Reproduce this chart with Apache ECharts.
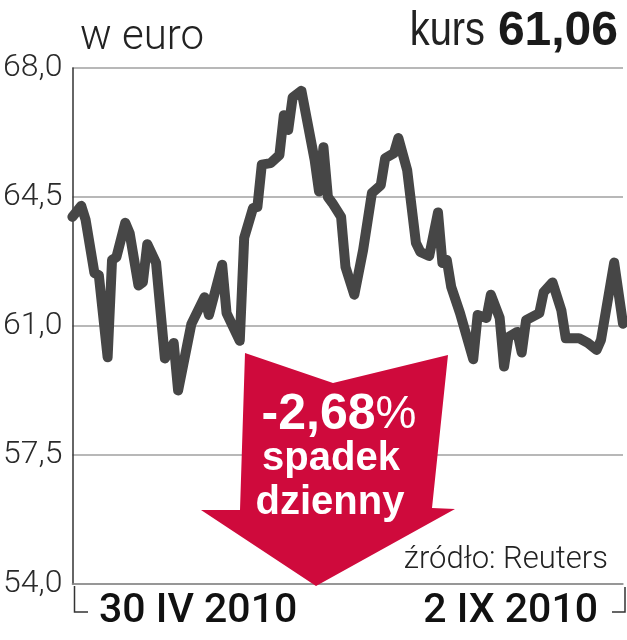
<!DOCTYPE html>
<html>
<head>
<meta charset="utf-8">
<script src="https://cdn.jsdelivr.net/npm/echarts@6/dist/echarts.min.js"></script>
<style>
  html, body { margin: 0; padding: 0; background: #fff; }
  #chart { width: 627px; height: 640px; }
</style>
</head>
<body>
<div id="chart"></div>
<script>
// dni kalendarzowe liczone od 30 IV 2010
const days = [0, 2, 3, 5, 6, 8, 9, 10, 12, 13, 15, 16, 17, 19, 21, 23, 24, 27, 30, 31,
  34, 35, 38, 39, 41, 42, 43, 45, 47, 48, 49, 50, 52, 55, 56, 57, 58, 59, 61, 62,
  64, 66, 68, 70, 71, 73, 74, 76, 78, 79, 81, 83, 84, 85, 86, 88, 91, 92, 94, 95,
  97, 98, 99, 101, 102, 103, 106, 107, 109, 111, 112, 115, 117, 119, 120, 123, 125];
// kurs w euro
const prices = [63.96, 64.26, 63.88, 62.44, 62.38, 60.15, 62.79, 62.87, 63.80, 63.52,
  62.10, 62.19, 63.22, 62.71, 60.12, 60.54, 59.25, 61.05, 61.78, 61.30,
  62.66, 61.35, 60.60, 63.39, 64.20, 64.23, 65.38, 65.42, 65.64, 66.72,
  66.32, 67.20, 67.38, 65.50, 64.65, 65.85, 64.50, 64.34, 63.96, 62.60,
  61.85, 63.06, 64.61, 64.82, 65.55, 65.69, 66.10, 65.23, 63.25, 63.01,
  62.90, 64.08, 62.71, 62.79, 62.06, 61.35, 60.10, 61.30, 61.22, 61.85,
  61.22, 59.90, 60.70, 60.84, 60.28, 61.16, 61.35, 61.92, 62.18, 61.43,
  60.67, 60.67, 60.54, 60.35, 60.62, 62.72, 61.06];
const yTicks = [54, 57.5, 61, 64.5, 68];
const dateLabels = ['30 IV 2010', '2 IX 2010'];

const lightFont = 'Roboto, "Liberation Sans", sans-serif';
const red = '#cf0a3c';

const chart = echarts.init(document.getElementById('chart'));

const option = {
  animation: false,
  grid: { left: 72, right: 4, top: 68, bottom: 56 },
  xAxis: {
    type: 'value',
    min: 0,
    max: 125,
    axisLine: { show: true, lineStyle: { color: '#8c8c8c', width: 1.5 } },
    axisTick: { show: false },
    axisLabel: { show: false },
    splitLine: { show: false }
  },
  yAxis: {
    type: 'value',
    min: yTicks[0],
    max: yTicks[yTicks.length - 1],
    interval: 3.5,
    axisLine: { show: true, lineStyle: { color: '#333', width: 1.5 } },
    axisTick: { show: false },
    axisLabel: {
      margin: 10,
      color: '#2a2a2a',
      fontSize: 32,
      fontWeight: 300,
      fontFamily: lightFont,
      formatter: function (v) { return v.toFixed(1).replace('.', ','); }
    },
    splitLine: { show: true, lineStyle: { color: '#a0a0a0', width: 1.5 } }
  },
  series: [
    {
      type: 'line',
      data: days.map(function (d, i) { return [d, prices[i]]; }),
      symbol: 'none',
      lineStyle: { color: '#464646', width: 10, join: 'round', cap: 'round' },
      z: 3
    }
  ],
  graphic: [
    // tytuly
    { type: 'text', left: 80, top: 17,
      style: { text: 'w euro', fill: '#222', font: '300 42px ' + lightFont } },
    { type: 'text', x: 485, y: 32, scaleX: 0.83,
      style: { text: 'kurs', fill: '#222', align: 'right', verticalAlign: 'middle',
        font: '48px "Liberation Sans", sans-serif' } },
    { type: 'text', x: 618, y: 32,
      style: { text: '61,06', fill: '#1a1a1a', align: 'right', verticalAlign: 'middle',
        font: 'bold 48px "Liberation Sans", sans-serif' } },
    // strzalka
    { type: 'polygon', z: 10,
      shape: { points: [[245, 353], [333, 383], [448, 355], [432, 508], [455, 509],
        [316, 586], [201, 510], [240, 510]] },
      style: { fill: red } },
    { type: 'text', z: 11, x: 339, y: 415,
      style: { text: '-2,68{p|%}', fill: '#fff', align: 'center', verticalAlign: 'middle',
        font: 'bold 50px "Liberation Sans", sans-serif',
        rich: { p: { fill: '#fff', font: '46px "Liberation Sans", sans-serif' } } } },
    { type: 'text', z: 11, x: 331, y: 459,
      style: { text: 'spadek', fill: '#fff', align: 'center', verticalAlign: 'middle',
        font: 'bold 40px "Liberation Sans", sans-serif' } },
    { type: 'text', z: 11, x: 330, y: 503,
      style: { text: 'dzienny', fill: '#fff', align: 'center', verticalAlign: 'middle',
        font: 'bold 40px "Liberation Sans", sans-serif' } },
    // zrodlo
    { type: 'text', z: 11, x: 608, y: 560,
      style: { text: 'źródło: Reuters', fill: '#222', align: 'right', verticalAlign: 'middle',
        font: '300 31px ' + lightFont } },
    // daty
    { type: 'text', x: 99, y: 612,
      style: { text: dateLabels[0], fill: '#111', align: 'left', verticalAlign: 'middle',
        font: '500 41px ' + lightFont } },
    { type: 'text', x: 598, y: 612,
      style: { text: dateLabels[1], fill: '#111', align: 'right', verticalAlign: 'middle',
        font: '500 41px ' + lightFont } },
    // nawiasy przy osi
    { type: 'polyline', shape: { points: [[74.5, 586], [74.5, 612], [88, 612]] },
      style: { stroke: '#333', lineWidth: 1.5, fill: null } },
    { type: 'polyline', shape: { points: [[612, 612], [625, 612], [625, 587]] },
      style: { stroke: '#333', lineWidth: 1.5, fill: null } }
  ]
};

chart.setOption(option);
</script>
</body>
</html>
